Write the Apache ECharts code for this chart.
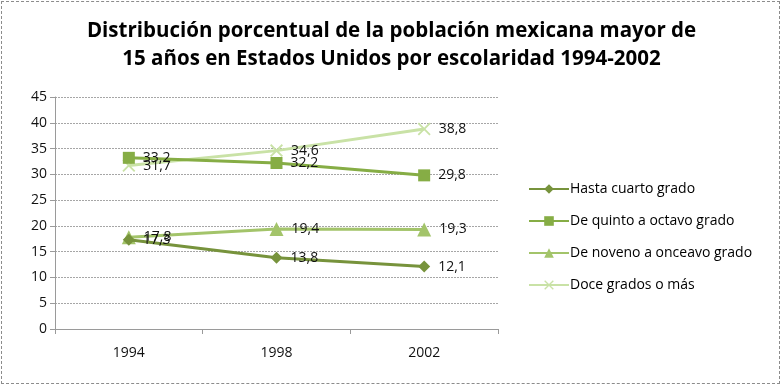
<!DOCTYPE html>
<html><head><meta charset="utf-8">
<script src="https://cdn.jsdelivr.net/npm/echarts@6/dist/echarts.min.js"></script>
<style>html,body{margin:0;padding:0;background:#fff}#c{width:783px;height:387px;box-sizing:border-box;}
#frame{position:absolute;left:1px;top:1px;width:779px;height:383px;border:1px dashed #8c8c8c;pointer-events:none;box-sizing:border-box}</style>
</head><body>
<div id="c"></div><div id="frame"></div>
<script>
const titleText = 'Distribución porcentual de la población mexicana mayor de\n15 años en Estados Unidos por escolaridad 1994-2002';
const categories = ['1994', '1998', '2002'];
const seriesNames = ['Hasta cuarto grado', 'De quinto a octavo grado', 'De noveno a onceavo grado', 'Doce grados o más'];
const hastaCuarto = [17.3, 13.8, 12.1];
const quintoOctavo = [33.2, 32.2, 29.8];
const novenoOnceavo = [17.8, 19.4, 19.3];
const doceMas = [31.7, 34.6, 38.8];
const yTicks = [0, 5, 10, 15, 20, 25, 30, 35, 40, 45];

const colors = ['#77933c', '#86ad45', '#a3c46a', '#c9e2a6'];
const xPath = 'path://M0,1L1,0L5,4L9,0L10,1L6,5L10,9L9,10L5,6L1,10L0,9L4,5Z';
const symbols = ['diamond', 'rect', 'triangle', xPath];
const sizes = [12, 12, 14, 13];
const data = [hastaCuarto, quintoOctavo, novenoOnceavo, doceMas];
const font = '"Open Sans", "Noto Sans", sans-serif';

const chart = echarts.init(document.getElementById('c'), null, {renderer: 'canvas'});
chart.setOption({
  animation: false,
  title: {
    text: titleText, left: 'center', top: 12,
    textStyle: {fontFamily: font, fontWeight: 'bold', fontSize: 20.5, lineHeight: 28, color: '#000'}
  },
  grid: {left: 55, right: 285, top: 97, bottom: 58},
  legend: {
    orient: 'vertical', left: 523, top: 175, itemGap: 14, itemWidth: 40, itemHeight: 12,
    textStyle: {fontFamily: font, fontSize: 14, color: '#000', padding: [0,0,0,-4], lineHeight: 18},
    data: seriesNames
  },
  xAxis: {
    type: 'category', data: categories, boundaryGap: true,
    axisLine: {lineStyle: {color: '#9a9a9a', width: 1}},
    axisTick: {show: true, length: 5, lineStyle: {color: '#9a9a9a'}},
    axisLabel: {fontFamily: font, fontSize: 14, color: '#111', margin: 17}
  },
  yAxis: {
    type: 'value', min: 0, max: 45, interval: 5,
    axisLine: {show: true, lineStyle: {color: '#9a9a9a'}},
    axisTick: {show: true, length: 5, lineStyle: {color: '#9a9a9a'}},
    axisLabel: {fontFamily: font, fontSize: 14, color: '#111', margin: 8,
      formatter: v => yTicks.includes(v) ? String(v) : ''},
    splitLine: {show: true, lineStyle: {color: '#a6a6a6', type: [2, 1], width: 1}}
  },
  series: data.map((d, i) => ({
    name: seriesNames[i], type: 'line', data: d,
    symbol: symbols[i], symbolSize: sizes[i], showAllSymbol: true,
    lineStyle: {color: colors[i], width: 3},
    itemStyle: {color: colors[i]},
    label: {show: true, position: 'right', distance: 8, fontFamily: font, fontSize: 14, color: '#111',
      formatter: p => String(p.value.toFixed(1)).replace('.', ',')},
    z: 10 - i
  }))
});
</script>
</body></html>
